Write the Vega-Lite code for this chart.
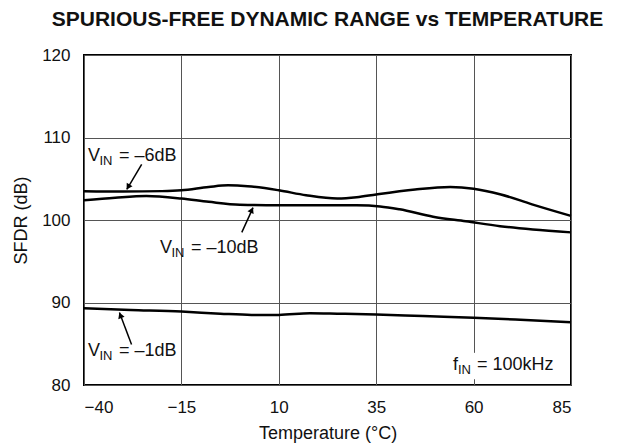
{
  "$schema": "https://vega.github.io/schema/vega-lite/v6.json",
  "width": 487,
  "height": 330,
  "autosize": {"type": "none"},
  "padding": {"left": 84, "top": 55, "right": 47, "bottom": 62},
  "background": "white",
  "config": {
    "font": "Liberation Sans",
    "view": {"stroke": "black", "strokeWidth": 2},
    "axis": {"gridColor": "#555555", "gridWidth": 1, "gridOpacity": 1, "ticks": false, "domain": false, "labelFont": "Liberation Sans", "titleFont": "Liberation Sans", "labelFontSize": 17, "titleFontSize": 18, "titleFontWeight": "normal", "labelColor": "#111", "titleColor": "#111"}
  },
  "title": {"text": "SPURIOUS-FREE DYNAMIC RANGE vs TEMPERATURE", "fontSize": 21, "fontWeight": "bold", "font": "Liberation Sans", "anchor": "middle", "offset": 16, "color": "#111"},
  "datasets": {
    "curves": [
      {"series": "-6dB", "temp": -40, "sfdr": 103.5},
      {"series": "-6dB", "temp": -30, "sfdr": 103.45},
      {"series": "-6dB", "temp": -20, "sfdr": 103.5},
      {"series": "-6dB", "temp": -15, "sfdr": 103.6},
      {"series": "-6dB", "temp": -8, "sfdr": 104.0},
      {"series": "-6dB", "temp": -3, "sfdr": 104.2},
      {"series": "-6dB", "temp": 2, "sfdr": 104.1},
      {"series": "-6dB", "temp": 10, "sfdr": 103.6},
      {"series": "-6dB", "temp": 17, "sfdr": 103.0},
      {"series": "-6dB", "temp": 25, "sfdr": 102.6},
      {"series": "-6dB", "temp": 30, "sfdr": 102.75},
      {"series": "-6dB", "temp": 35, "sfdr": 103.1},
      {"series": "-6dB", "temp": 45, "sfdr": 103.7},
      {"series": "-6dB", "temp": 54, "sfdr": 104.0},
      {"series": "-6dB", "temp": 60, "sfdr": 103.8},
      {"series": "-6dB", "temp": 67, "sfdr": 103.1},
      {"series": "-6dB", "temp": 75, "sfdr": 101.9},
      {"series": "-6dB", "temp": 85, "sfdr": 100.5},
      {"series": "-10dB", "temp": -40, "sfdr": 102.4},
      {"series": "-10dB", "temp": -32, "sfdr": 102.7},
      {"series": "-10dB", "temp": -24, "sfdr": 102.9},
      {"series": "-10dB", "temp": -15, "sfdr": 102.6},
      {"series": "-10dB", "temp": -8, "sfdr": 102.2},
      {"series": "-10dB", "temp": 0, "sfdr": 101.85},
      {"series": "-10dB", "temp": 10, "sfdr": 101.8},
      {"series": "-10dB", "temp": 20, "sfdr": 101.8},
      {"series": "-10dB", "temp": 30, "sfdr": 101.78},
      {"series": "-10dB", "temp": 36, "sfdr": 101.65},
      {"series": "-10dB", "temp": 41, "sfdr": 101.3},
      {"series": "-10dB", "temp": 49.6, "sfdr": 100.4},
      {"series": "-10dB", "temp": 58, "sfdr": 99.85},
      {"series": "-10dB", "temp": 66.8, "sfdr": 99.25},
      {"series": "-10dB", "temp": 75.2, "sfdr": 98.85},
      {"series": "-10dB", "temp": 85, "sfdr": 98.5},
      {"series": "-1dB", "temp": -40, "sfdr": 89.3},
      {"series": "-1dB", "temp": -28, "sfdr": 89.1},
      {"series": "-1dB", "temp": -15, "sfdr": 88.9},
      {"series": "-1dB", "temp": -5, "sfdr": 88.65},
      {"series": "-1dB", "temp": 3, "sfdr": 88.5},
      {"series": "-1dB", "temp": 10, "sfdr": 88.5},
      {"series": "-1dB", "temp": 18, "sfdr": 88.7},
      {"series": "-1dB", "temp": 25, "sfdr": 88.65},
      {"series": "-1dB", "temp": 35, "sfdr": 88.55},
      {"series": "-1dB", "temp": 47, "sfdr": 88.35},
      {"series": "-1dB", "temp": 60, "sfdr": 88.15},
      {"series": "-1dB", "temp": 72, "sfdr": 87.9},
      {"series": "-1dB", "temp": 85, "sfdr": 87.6}
    ],
    "vlabels": [
      {"main": "V", "sub": "IN", "rest": "= –6dB", "temp": -39.0, "sfdr": 107.2},
      {"main": "V", "sub": "IN", "rest": "= –10dB", "temp": -20.5, "sfdr": 96.05},
      {"main": "V", "sub": "IN", "rest": "= –1dB", "temp": -39.0, "sfdr": 83.5}
    ],
    "flabel": [
      {"main": "f", "sub": "IN", "rest": "= 100kHz", "temp": 54.7, "sfdr": 81.8}
    ],
    "mask": [
      {"t1": 58.5, "t2": 61.5, "s1": 80.7, "s2": 83.9}
    ],
    "arrows": [
      {"id": "a6", "t1": -25.2, "s1": 106.75, "t2": -29.0, "s2": 103.7, "ht": -28.55, "hs": 104.1},
      {"id": "a10", "t1": 0.5, "s1": 98.5, "t2": 3.4, "s2": 101.5, "ht": 2.95, "hs": 101.1},
      {"id": "a1", "t1": -27.8, "s1": 84.9, "t2": -30.9, "s2": 88.8, "ht": -30.57, "hs": 88.34}
    ]
  },
  "layer": [
    {
      "data": {"name": "curves"},
      "mark": {"type": "line", "color": "black", "strokeWidth": 2.5, "interpolate": "monotone"},
      "encoding": {
        "x": {"field": "temp", "type": "quantitative", "scale": {"domain": [-40, 85], "nice": false, "zero": false},
              "axis": {"values": [-40, -15, 10, 35, 60, 85], "title": "Temperature (°C)", "labelPadding": 14, "titlePadding": 9}},
        "y": {"field": "sfdr", "type": "quantitative", "scale": {"domain": [80, 120], "nice": false, "zero": false},
              "axis": {"values": [80, 90, 100, 110, 120], "title": "SFDR (dB)", "labelPadding": 14, "titlePadding": 11}},
        "detail": {"field": "series"}
      }
    },
    {
      "data": {"name": "mask"},
      "mark": {"type": "rect", "color": "white"},
      "encoding": {
        "x": {"field": "t1", "type": "quantitative"},
        "x2": {"field": "t2"},
        "y": {"field": "s1", "type": "quantitative"},
        "y2": {"field": "s2"}
      }
    },
    {
      "data": {"name": "arrows"},
      "mark": {"type": "rule", "color": "black", "strokeWidth": 1.5},
      "encoding": {
        "x": {"field": "t1", "type": "quantitative"},
        "y": {"field": "s1", "type": "quantitative"},
        "x2": {"field": "t2"},
        "y2": {"field": "s2"}
      }
    },
    {
      "data": {"name": "arrows"},
      "transform": [{"filter": "datum.id == 'a6'"}],
      "mark": {"type": "point", "shape": "triangle", "filled": true, "color": "black", "size": 45, "angle": 211, "opacity": 1},
      "encoding": {"x": {"field": "ht", "type": "quantitative"}, "y": {"field": "hs", "type": "quantitative"}}
    },
    {
      "data": {"name": "arrows"},
      "transform": [{"filter": "datum.id == 'a10'"}],
      "mark": {"type": "point", "shape": "triangle", "filled": true, "color": "black", "size": 45, "angle": 24, "opacity": 1},
      "encoding": {"x": {"field": "ht", "type": "quantitative"}, "y": {"field": "hs", "type": "quantitative"}}
    },
    {
      "data": {"name": "arrows"},
      "transform": [{"filter": "datum.id == 'a1'"}],
      "mark": {"type": "point", "shape": "triangle", "filled": true, "color": "black", "size": 45, "angle": 339, "opacity": 1},
      "encoding": {"x": {"field": "ht", "type": "quantitative"}, "y": {"field": "hs", "type": "quantitative"}}
    },
    {
      "data": {"name": "vlabels"},
      "mark": {"type": "text", "align": "left", "baseline": "alphabetic", "fontSize": 18, "color": "#111"},
      "encoding": {"x": {"field": "temp", "type": "quantitative"}, "y": {"field": "sfdr", "type": "quantitative"}, "text": {"field": "main"}}
    },
    {
      "data": {"name": "vlabels"},
      "mark": {"type": "text", "align": "left", "baseline": "alphabetic", "fontSize": 13, "dx": 11.5, "dy": 4, "color": "#111"},
      "encoding": {"x": {"field": "temp", "type": "quantitative"}, "y": {"field": "sfdr", "type": "quantitative"}, "text": {"field": "sub"}}
    },
    {
      "data": {"name": "vlabels"},
      "mark": {"type": "text", "align": "left", "baseline": "alphabetic", "fontSize": 18, "dx": 31, "color": "#111"},
      "encoding": {"x": {"field": "temp", "type": "quantitative"}, "y": {"field": "sfdr", "type": "quantitative"}, "text": {"field": "rest"}}
    },
    {
      "data": {"name": "flabel"},
      "mark": {"type": "text", "align": "left", "baseline": "alphabetic", "fontSize": 18, "color": "#111"},
      "encoding": {"x": {"field": "temp", "type": "quantitative"}, "y": {"field": "sfdr", "type": "quantitative"}, "text": {"field": "main"}}
    },
    {
      "data": {"name": "flabel"},
      "mark": {"type": "text", "align": "left", "baseline": "alphabetic", "fontSize": 13, "dx": 5, "dy": 4, "color": "#111"},
      "encoding": {"x": {"field": "temp", "type": "quantitative"}, "y": {"field": "sfdr", "type": "quantitative"}, "text": {"field": "sub"}}
    },
    {
      "data": {"name": "flabel"},
      "mark": {"type": "text", "align": "left", "baseline": "alphabetic", "fontSize": 18, "dx": 24, "color": "#111"},
      "encoding": {"x": {"field": "temp", "type": "quantitative"}, "y": {"field": "sfdr", "type": "quantitative"}, "text": {"field": "rest"}}
    }
  ]
}
